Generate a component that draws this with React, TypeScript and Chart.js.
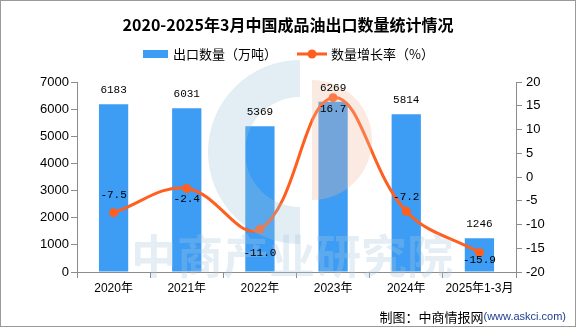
import React, { useEffect, useRef } from 'react';
import { Chart, registerables } from 'chart.js';

Chart.register(...registerables);

const titleText = '2020-2025年3月中国成品油出口数量统计情况';
const barSeriesName = '出口数量（万吨）';
const lineSeriesName = '数量增长率（%）';
const sourceText = '制图：中商情报网';
const sourceUrl = '(www.askci.com)';
const watermarkText = '中商产业研究院';

const categories = ['2020年', '2021年', '2022年', '2023年', '2024年', '2025年1-3月'];
const exportVolume = [6183, 6031, 5369, 6269, 5814, 1246];
const growthRate = [-7.5, -2.4, -11.0, 16.7, -7.2, -15.9];
const rateLabelOffsets = [-18, 11, 24, 11, -14, 8];

const BLUE = '#3d9cf4';
const ORANGE = '#ff5f1f';
const AXIS = '#8c8c8c';
const CJK = '"Noto Sans CJK SC", sans-serif';
const NUM = '"Liberation Sans", "Noto Sans CJK SC", sans-serif';
const MONO = '"Liberation Mono", "DejaVu Sans Mono", monospace';

const decorPlugin = {
  id: 'decor',
  beforeDraw(chart: any) {
    const ctx = chart.ctx;
    ctx.save();
    ctx.fillStyle = '#ffffff';
    ctx.fillRect(0, 0, chart.width, chart.height);
    ctx.restore();
  },
  afterDatasetsDraw(chart: any) {
    const ctx = chart.ctx;
    // watermark
    ctx.save();
    ctx.globalAlpha = 0.3;
    ctx.fillStyle = '#9fc3da';
    ctx.beginPath();
    ctx.arc(300, 152, 92, Math.PI * 0.5, Math.PI * 1.5, false);
    ctx.arc(300, 152, 55, Math.PI * 1.5, Math.PI * 0.5, true);
    ctx.closePath();
    ctx.fill();
    ctx.fillStyle = '#f2b9a0';
    ctx.beginPath();
    ctx.arc(312, 140, 60, -Math.PI * 0.5, Math.PI * 0.5, false);
    ctx.closePath();
    ctx.fill();
    ctx.fillStyle = '#a9c8de';
    ctx.font = `bold 46px ${CJK}`;
    ctx.textAlign = 'center';
    ctx.textBaseline = 'middle';
    ctx.fillText(watermarkText, 292, 256);
    ctx.restore();

    // data labels
    ctx.save();
    ctx.font = `11px ${MONO}`;
    ctx.fillStyle = '#000';
    ctx.textAlign = 'center';
    ctx.textBaseline = 'middle';
    const barMeta = chart.getDatasetMeta(1);
    barMeta.data.forEach((el: any, i: number) => {
      ctx.fillText(String(exportVolume[i]), el.x, el.y - 14);
    });
    const lineMeta = chart.getDatasetMeta(0);
    lineMeta.data.forEach((el: any, i: number) => {
      ctx.fillText(growthRate[i].toFixed(1), el.x, el.y + rateLabelOffsets[i]);
    });
    ctx.restore();
  },
  afterDraw(chart: any) {
    const ctx = chart.ctx;
    const W = chart.width;
    const H = chart.height;
    ctx.save();
    // title
    ctx.fillStyle = '#000';
    ctx.font = `bold 16px ${CJK}`;
    ctx.textAlign = 'center';
    ctx.textBaseline = 'middle';
    ctx.fillText(titleText, 288, 25);
    // legend
    ctx.fillStyle = BLUE;
    ctx.fillRect(143, 50, 25, 8);
    ctx.fillStyle = '#000';
    ctx.font = `13px ${CJK}`;
    ctx.textAlign = 'left';
    ctx.fillText(barSeriesName, 173, 54);
    ctx.strokeStyle = ORANGE;
    ctx.lineWidth = 3;
    ctx.beginPath();
    ctx.moveTo(297, 54);
    ctx.lineTo(327, 54);
    ctx.stroke();
    ctx.fillStyle = ORANGE;
    ctx.beginPath();
    ctx.arc(312, 54, 4.5, 0, Math.PI * 2);
    ctx.fill();
    ctx.fillStyle = '#000';
    ctx.fillText(lineSeriesName, 331, 54);
    // source
    ctx.textAlign = 'right';
    ctx.fillStyle = '#1d3f8f';
    ctx.font = `11px ${NUM}`;
    const urlW = ctx.measureText(sourceUrl).width;
    ctx.fillText(sourceUrl, 566, 317);
    ctx.fillStyle = '#000';
    ctx.font = `13px ${CJK}`;
    ctx.fillText(sourceText, 566 - urlW, 317);
    // border
    ctx.strokeStyle = '#9a9a9a';
    ctx.lineWidth = 1;
    ctx.strokeRect(0.5, 0.5, W - 1, H - 1);
    ctx.restore();
  },
};

export default function App() {
  const ref = useRef<HTMLCanvasElement>(null);
  useEffect(() => {
    document.body.style.margin = '0';
    const canvas = ref.current;
    if (!canvas) return;
    const chart = new Chart(canvas, {
      type: 'bar',
      data: {
        labels: categories,
        datasets: [
          {
            type: 'line',
            label: lineSeriesName,
            data: growthRate,
            yAxisID: 'y1',
            borderColor: ORANGE,
            backgroundColor: ORANGE,
            borderWidth: 3,
            pointRadius: 4.5,
            pointBackgroundColor: ORANGE,
            pointBorderWidth: 0,
            tension: 0.4,
            order: 0,
          } as any,
          {
            type: 'bar',
            label: barSeriesName,
            data: exportVolume,
            yAxisID: 'y',
            backgroundColor: BLUE,
            barPercentage: 0.4,
            categoryPercentage: 1,
            order: 1,
          } as any,
        ],
      },
      options: {
        responsive: false,
        animation: false,
        layout: { padding: { top: 82, left: 0, right: 0, bottom: 0 } },
        plugins: {
          legend: { display: false },
          title: { display: false },
          tooltip: { enabled: false },
        },
        scales: {
          x: {
            grid: { display: true, drawOnChartArea: false, drawTicks: true, tickLength: 6, color: AXIS, offset: true },
            border: { color: AXIS },
            ticks: { color: '#000', font: { size: 12, family: NUM }, padding: 3, maxRotation: 0, autoSkip: false },
            afterFit(scale: any) { scale.height = 55; },
          },
          y: {
            position: 'left',
            min: 0,
            max: 7000,
            ticks: { stepSize: 1000, color: '#000', font: { size: 13, family: NUM }, padding: 2, callback: (v: any) => String(v) },
            grid: { display: true, drawOnChartArea: false, drawTicks: true, tickLength: 6, color: AXIS },
            border: { color: AXIS },
            afterFit(scale: any) { scale.width = 77; },
          },
          y1: {
            position: 'right',
            min: -20,
            max: 20,
            ticks: { stepSize: 5, color: '#000', font: { size: 13, family: NUM }, padding: 4, callback: (v: any) => String(v) },
            grid: { display: true, drawOnChartArea: false, drawTicks: true, tickLength: 6, color: AXIS },
            border: { color: AXIS },
            afterFit(scale: any) { scale.width = 60; },
          },
        },
      },
      plugins: [decorPlugin],
    });
    return () => chart.destroy();
  }, []);
  return (
    <div style={{ width: 576, height: 327 }}>
      <canvas ref={ref} width={576} height={327} style={{ display: 'block' }} />
    </div>
  );
}
